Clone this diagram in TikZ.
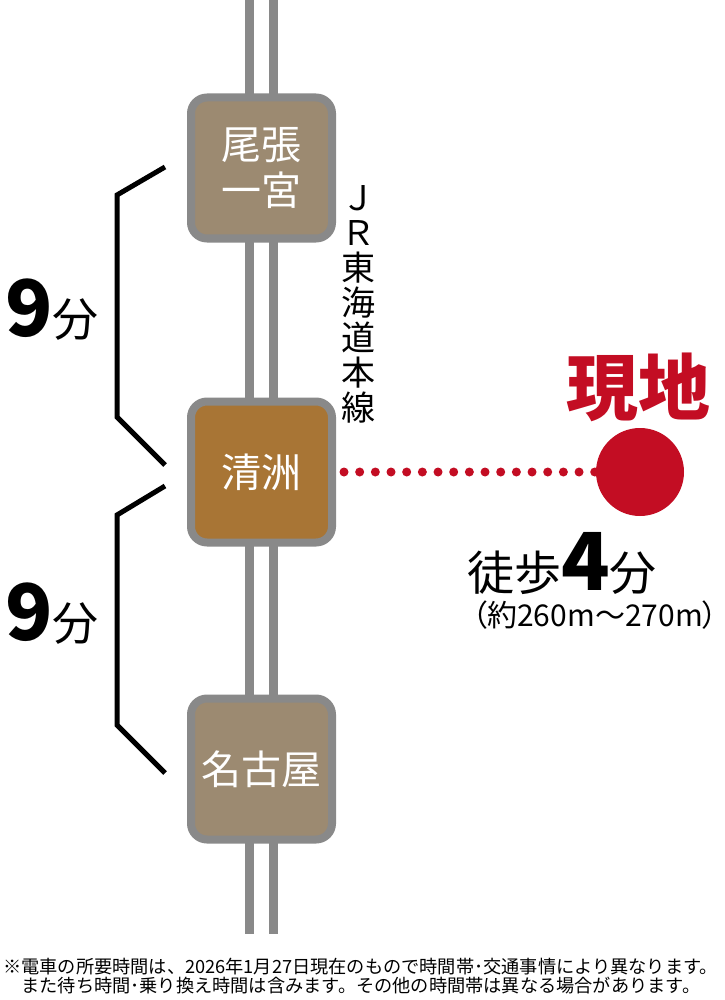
\documentclass[tikz,border=0pt]{standalone}
\usepackage{fontspec}
\setmainfont{Noto Sans CJK JP}
\usetikzlibrary{calc}
\definecolor{railgray}{HTML}{898989}
\definecolor{stationbrown}{HTML}{9C8A71}
\definecolor{kiyosuorange}{HTML}{A87535}
\definecolor{sitered}{HTML}{C30D23}

\begin{document}
\begin{tikzpicture}[x=1pt,y=-1pt]
	\path [use as bounding box] (0,0) rectangle (724,1000);
	\tikzstyle{station} = [draw=railgray, line width=8pt, rounded corners=16pt, minimum width=141pt, minimum height=141pt, inner sep=0pt, text=white, align=center, font=\fontsize{40}{46}\selectfont]
	\tikzstyle{bracket} = [line width=5pt, miter limit=10]
	\tikzstyle{minutes} = [inner sep=0pt, anchor=base west]
	% rails
	\draw[railgray, line width=9pt] (249,0) -- (249,934);
	\draw[railgray, line width=9pt] (273,0) -- (273,934);
	% stations
	\node[station, fill=stationbrown] (owari) at (261.5,168) {尾張\\一宮};
	\node[station, fill=kiyosuorange] (kiyosu) at (261.5,472) {清洲};
	\node[station, fill=stationbrown] (nagoya) at (261.5,769) {名古屋};
	\node[align=center, inner sep=0pt, font=\fontsize{34}{35}\selectfont] (jrline) at (358,304) {Ｊ\\Ｒ\\東\\海\\道\\本\\線};
	% brackets
	\draw[bracket] (165,167) -- (117,195) -- (117,417) -- (165,465);
	\draw[bracket] (165,486) -- (117,515) -- (117,725) -- (165,773);
	\node[minutes] (upper) at (5,336) {{\fontsize{78}{78}\bfseries 9}{\fontsize{46}{46}\selectfont 分}};
	\node[minutes] (lower) at (5,640) {{\fontsize{78}{78}\bfseries 9}{\fontsize{46}{46}\selectfont 分}};
	% site
	\node[circle, fill=sitered, minimum size=88pt, inner sep=0pt] (site) at (640,472) {};
	\node[text=sitered, font=\fontsize{72}{72}\bfseries\selectfont, inner sep=0pt] (genchi) at (638,387) {現地};
	\draw[sitered, line width=9pt, line cap=round, dash pattern=on 0pt off 15.67pt, shorten <=8pt] (kiyosu.east) -- (site.west);
	\node[minutes] (walk) at (467,590) {{\fontsize{47}{47}\selectfont 徒歩}{\fontsize{80}{80}\bfseries 4}{\fontsize{47}{47}\selectfont 分}};
	\node[inner sep=0pt, anchor=base east, font=\fontsize{30}{30}\selectfont\addfontfeature{RawFeature=+palt}] (dist) at (718,626) {（約260m～270m）};
	% note
	\node[inner sep=0pt, anchor=north west, align=left, font=\fontsize{18.2}{19}\selectfont] (note) at (3,958) {※電車の所要時間は、2026年1月27日現在のもので時間帯･交通事情により異なります。\\\hspace*{1em}また待ち時間･乗り換え時間は含みます。その他の時間帯は異なる場合があります。};
\end{tikzpicture}
\end{document}
